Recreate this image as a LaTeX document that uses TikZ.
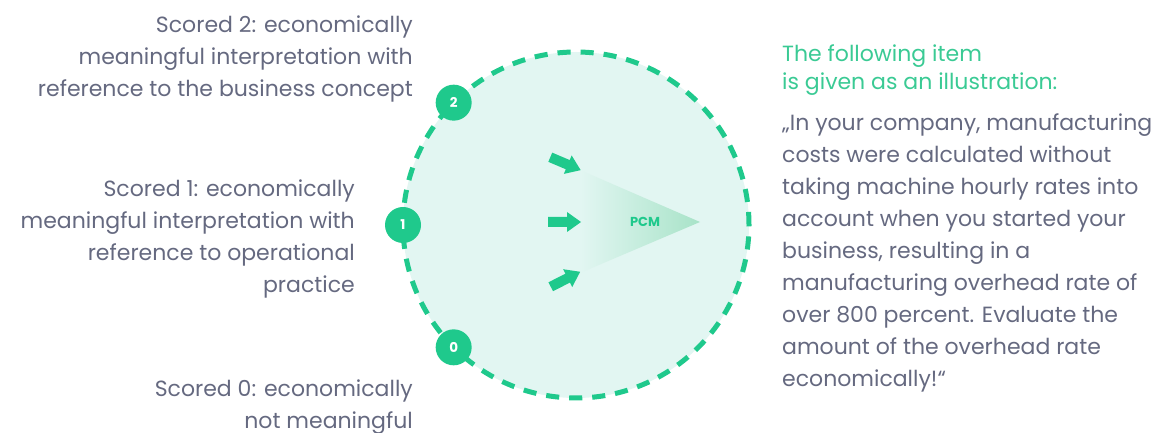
\documentclass[tikz,border=0pt]{standalone}
\usepackage{fontspec}
\setmainfont{Poppins}
\definecolor{pcmgreen}{HTML}{1FC98C}
\definecolor{mint}{HTML}{E2F6F2}
\definecolor{trigreen}{HTML}{A8E3C8}
\definecolor{txtgray}{HTML}{656980}
\definecolor{headgreen}{HTML}{3ACA94}
\tikzset{
  badge/.style={circle, fill=pcmgreen, text=white, minimum size=36pt, inner sep=0pt, font=\bfseries\fontsize{13.5}{15}\selectfont},
  lefttext/.style={anchor=base east, align=right, inner sep=0pt, text=txtgray, font=\fontsize{22}{32}\selectfont},
  righttext/.style={anchor=base west, align=left, inner sep=0pt, text=txtgray, font=\fontsize{22}{32}\selectfont},
  headtext/.style={anchor=base west, align=left, inner sep=0pt, text=headgreen, font=\fontsize{22}{28}\selectfont},
  blockarrow/.pic={\fill[pcmgreen] (-16pt,-5pt) -- (3pt,-5pt) -- (3pt,-10pt) -- (17pt,0pt) -- (3pt,10pt) -- (3pt,5pt) -- (-16pt,5pt) -- cycle;}
}
\begin{document}
\begin{tikzpicture}[x=1pt,y=1pt]
\useasboundingbox (0,0) rectangle (1158,433);
\coordinate (c) at (576,208);
\fill[mint] (c) circle (173pt);
\draw[pcmgreen, line width=5pt, dash pattern=on 13.1pt off 10pt] ([shift={(0:173pt)}]c) arc (0:360:173pt);
\coordinate (t1) at (580,263);
\coordinate (t2) at (580,160);
\coordinate (t3) at (700,211);
\shade[left color=mint, right color=trigreen] (t1) -- (t2) -- (t3) -- cycle;
\node[text=pcmgreen, font=\bfseries\fontsize{13}{15}\selectfont] (pcm) at (645,211) {PCM};
\pic[rotate=-23] (a1) at (565,269.5) {blockarrow};
\pic (a2) at (564,211) {blockarrow};
\pic[rotate=27] (a3) at (565,153.5) {blockarrow};
\node[badge] (b2) at ([shift={(135:173pt)}]c) {2};
\node[badge] (b1) at ([shift={(180:173pt)}]c) {1};
\node[badge] (b0) at ([shift={(225:173pt)}]c) {0};
\node[lefttext] (s2) at (413,336) {Scored 2: economically\\meaningful interpretation with\\reference to the business concept};
\node[lefttext] (s1) at (355,140) {Scored 1: economically\\meaningful interpretation with\\reference to operational\\practice};
\node[lefttext] (s0) at (413,4) {Scored 0: economically\\not meaningful};
\node[headtext] (h) at (782,343) {The following item\\is given as an illustration:};
\node[righttext] (q) at (782,46) {„In your company, manufacturing\\costs were calculated without\\taking machine hourly rates into\\account when you started your\\business, resulting in a\\manufacturing overhead rate of\\over 800 percent. Evaluate the\\amount of the overhead rate\\economically!“};
\end{tikzpicture}
\end{document}
